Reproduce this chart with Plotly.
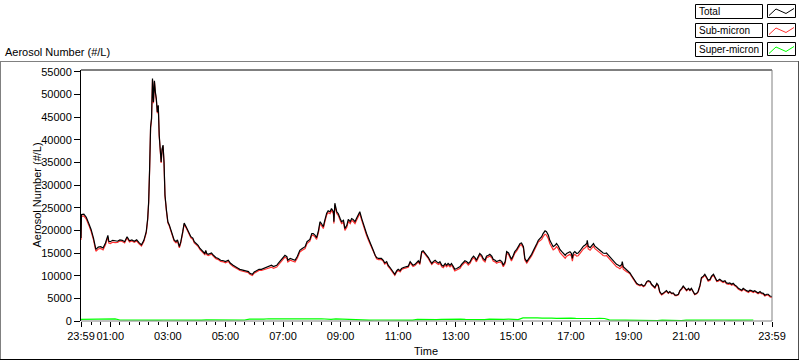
import plotly.graph_objects as go

# ---------------- data (minutes after 00:00; -1 = 23:59 previous day) ----------------
minutes = [-1, 0, 5, 10, 15, 20, 25, 30, 35, 40, 45, 50, 55, 57, 60, 65, 70, 75, 80, 85,
           90, 95, 100, 105, 110, 115, 120, 125, 130, 135, 138, 140, 142, 144, 146, 148, 150, 152, 154, 156,
           158, 160, 162, 164, 166, 168, 170, 172, 174, 177, 180, 183, 187, 190, 193, 197, 200, 204, 207, 211,
           214, 218, 221, 225, 228, 232, 235, 240, 243, 247, 250, 254, 257, 259, 261, 264, 271, 275, 280, 285,
           290, 296, 300, 306, 310, 316, 320, 327, 330, 337, 340, 348, 350, 356, 360, 365, 370, 375, 380, 386,
           390, 396, 400, 407, 410, 416, 420, 424, 428, 430, 435, 440, 445, 450, 455, 460, 466, 470, 476, 480,
           483, 487, 490, 494, 497, 500, 504, 507, 511, 514, 518, 521, 525, 526, 528, 532, 535, 539, 542, 546,
           549, 553, 556, 560, 563, 566, 570, 573, 577, 580, 584, 587, 591, 594, 598, 601, 605, 608, 612, 615,
           619, 625, 629, 632, 636, 639, 643, 646, 650, 653, 657, 660, 664, 667, 671, 678, 681, 685, 688, 691,
           695, 698, 702, 705, 709, 712, 716, 719, 723, 726, 730, 733, 737, 740, 744, 747, 751, 754, 758, 761,
           764, 768, 771, 775, 778, 782, 785, 789, 792, 796, 799, 803, 806, 810, 813, 817, 820, 823, 827, 830,
           834, 837, 841, 844, 848, 851, 855, 858, 862, 865, 869, 872, 876, 879, 883, 886, 890, 893, 896, 900,
           903, 907, 910, 914, 917, 921, 924, 928, 931, 935, 938, 942, 945, 949, 952, 955, 959, 962, 966, 969,
           973, 976, 980, 983, 987, 990, 994, 997, 1001, 1004, 1008, 1011, 1014, 1018, 1021, 1023, 1025, 1028, 1032, 1035,
           1039, 1042, 1046, 1049, 1053, 1054, 1056, 1060, 1063, 1067, 1070, 1074, 1077, 1080, 1084, 1087, 1091, 1094, 1098, 1101,
           1105, 1108, 1112, 1115, 1119, 1122, 1126, 1127, 1129, 1133, 1136, 1140, 1143, 1146, 1150, 1153, 1157, 1160, 1164, 1167,
           1171, 1174, 1178, 1181, 1185, 1188, 1192, 1195, 1199, 1202, 1205, 1209, 1212, 1216, 1219, 1223, 1226, 1230, 1233, 1237,
           1240, 1244, 1247, 1251, 1254, 1258, 1261, 1265, 1268, 1271, 1275, 1278, 1282, 1285, 1289, 1292, 1296, 1299, 1303, 1306,
           1310, 1313, 1317, 1320, 1324, 1327, 1330, 1334, 1337, 1341, 1344, 1348, 1351, 1355, 1358, 1362, 1365, 1369, 1372, 1376,
           1379, 1383, 1386, 1390, 1393, 1396, 1400, 1403, 1407, 1410, 1414, 1417, 1421, 1424, 1428, 1431, 1435, 1439]

total = [18300, 23500, 23600, 22900, 21600, 20200, 18300, 15800, 16300, 16400, 16100, 17200, 18900, 17600, 17500, 17800, 17700, 17600, 17900, 17800,
         17500, 18600, 17700, 17900, 17600, 17900, 17300, 16800, 17800, 19700, 22600, 26300, 33600, 42800, 44700, 53500, 48300, 53000, 50500, 49000,
         46100, 47600, 41000, 38800, 35100, 38000, 38800, 35100, 27800, 24500, 21900, 21200, 19700, 18600, 17900, 17500, 17900, 16400, 17500, 19700,
         21600, 20800, 20100, 19400, 18600, 18300, 17500, 17000, 16700, 16000, 15600, 15300, 14900, 15600, 14900, 14700, 15000, 14500, 14000, 13800,
         13400, 13300, 13100, 13400, 12800, 12300, 12100, 11600, 11400, 11200, 11100, 10900, 10600, 10300, 10800, 11200, 11400, 11400, 11600, 11800,
         12100, 12300, 12000, 12300, 12700, 13400, 14000, 14500, 14200, 13400, 13800, 13600, 13400, 14300, 15600, 16000, 16400, 17500, 18000, 19300,
         19300, 18900, 18400, 20000, 21900, 21500, 20800, 22200, 23800, 24300, 24100, 24800, 24100, 21900, 26000, 24100, 23700, 22600, 21900, 22200,
         20400, 21100, 22400, 21900, 22600, 22400, 21900, 22600, 23700, 24100, 22600, 21500, 20400, 19300, 18200, 17500, 16400, 15600, 14500, 14000,
         13800, 13800, 13400, 12800, 13100, 12300, 11800, 11400, 10900, 10300, 11100, 11400, 11100, 11600, 11800, 12100, 12100, 13100, 12700, 12300,
         12500, 12800, 13300, 12700, 15300, 15500, 15000, 14700, 14000, 13400, 12700, 13100, 13400, 13100, 12800, 13100, 12300, 12100, 12700, 12300,
         12700, 12300, 12700, 12000, 11400, 11600, 11800, 12000, 12500, 13100, 13300, 13100, 12700, 13100, 13800, 14300, 14000, 13400, 14200, 14900,
         14500, 13800, 13400, 14300, 14500, 14700, 14300, 13600, 13400, 13100, 13300, 13400, 13100, 12300, 13100, 15300, 15000, 14200, 13600, 14500,
         15300, 15800, 16400, 17100, 17200, 16400, 13800, 13100, 13600, 14200, 14700, 15600, 16400, 17100, 17800, 18200, 18600, 19300, 19900, 19700,
         18900, 17800, 17100, 16400, 16700, 17100, 16500, 15800, 15300, 14900, 14500, 14900, 15000, 15300, 14900, 13800, 15000, 15300, 14900, 15000,
         15500, 16000, 16500, 16700, 17100, 17800, 16500, 16200, 16700, 17100, 16500, 16200, 16000, 15800, 15300, 15000, 14900, 15000, 14500, 14200,
         13800, 13400, 12800, 12500, 12300, 12100, 12500, 13100, 12000, 11600, 11400, 10900, 10600, 10100, 9400, 8700, 8300, 8100, 7900, 8100,
         7700, 7900, 8700, 8900, 8700, 8100, 7700, 7400, 8300, 7900, 6500, 5900, 6100, 6500, 6700, 6200, 6500, 6100, 6200, 5700,
         5700, 5900, 6700, 7200, 7700, 7200, 6800, 7200, 6800, 7200, 6500, 5900, 6100, 6500, 7900, 9600, 9900, 10300, 9600, 9000,
         9200, 9900, 10300, 9600, 8900, 9000, 9200, 8900, 8700, 8900, 8400, 8300, 8400, 8100, 8300, 7900, 7700, 7200, 7000, 6800,
         7200, 6800, 6700, 6500, 6800, 6700, 6500, 6700, 6500, 6200, 6500, 6200, 6100, 5700, 5900, 5900, 5500, 5400]

sub_micron = [17900, 23100, 23200, 22500, 21200, 19800, 17900, 15400, 15900, 16000, 15700, 16800, 18500, 17200, 17100, 17400, 17300, 17350, 17650, 17550,
              17250, 18350, 17450, 17650, 17350, 17650, 17050, 16550, 17550, 19450, 22350, 26050, 33350, 42550, 44450, 53250, 48050, 52750, 50250, 48750,
              45850, 47350, 40750, 38550, 34850, 37750, 38550, 34850, 27550, 24250, 21650, 20950, 19450, 18350, 17650, 17250, 17650, 16150, 17250, 19450,
              21350, 20550, 19850, 19150, 18350, 18050, 17250, 16750, 16450, 15750, 15350, 15050, 14650, 15350, 14650, 14450, 14750, 14250, 13750, 13550,
              13150, 13050, 12850, 13150, 12550, 12050, 11850, 11350, 11150, 10950, 10850, 10650, 10350, 10050, 10550, 10950, 11150, 11150, 11350, 11550,
              11700, 11900, 11600, 11900, 12300, 13000, 13600, 14100, 13800, 13000, 13400, 13200, 13000, 13900, 15200, 15600, 16000, 17100, 17600, 18900,
              18900, 18500, 18000, 19600, 21500, 21100, 20400, 21800, 23400, 23900, 23700, 24400, 23700, 21500, 25600, 23700, 23300, 22200, 21500, 21800,
              20000, 20700, 22000, 21500, 22200, 22000, 21500, 22200, 23300, 23700, 22200, 21100, 20000, 18900, 17800, 17100, 16100, 15350, 14250, 13750,
              13550, 13550, 13150, 12550, 12850, 12050, 11550, 11150, 10650, 10050, 10850, 11150, 10850, 11350, 11550, 11850, 11850, 12850, 12450, 12050,
              12250, 12550, 13050, 12450, 15050, 15250, 14750, 14450, 13750, 13150, 12450, 12850, 13050, 12750, 12450, 12750, 11950, 11750, 12350, 11950,
              12350, 11950, 12350, 11650, 11050, 11250, 11450, 11650, 12150, 12750, 12950, 12750, 12350, 12750, 13450, 13950, 13650, 13050, 13850, 14550,
              14150, 13450, 13050, 13950, 14150, 14350, 13950, 13250, 13050, 12750, 12950, 13050, 12750, 11950, 12750, 14950, 14650, 13850, 13250, 14150,
              14950, 15450, 16050, 16750, 16850, 16050, 13450, 12750, 13250, 13850, 14350, 15250, 16050, 16750, 17450, 17700, 18000, 18600, 19150, 18950,
              18150, 17100, 16400, 15700, 16000, 16450, 15850, 15150, 14650, 14250, 13850, 14300, 14400, 14700, 14300, 13200, 14400, 14700, 14300, 14400,
              14900, 15400, 15900, 16100, 16500, 17200, 15900, 15600, 16100, 16550, 15950, 15650, 15450, 15250, 14750, 14450, 14350, 14450, 13950, 13650,
              13250, 12850, 12250, 11950, 11750, 11550, 11950, 12550, 11450, 11050, 10850, 10650, 10400, 9900, 9200, 8500, 8100, 7950, 7750, 7950,
              7550, 7750, 8550, 8750, 8550, 7950, 7550, 7250, 8100, 7700, 6300, 5750, 5950, 6350, 6550, 6100, 6400, 6000, 6100, 5600,
              5600, 5800, 6600, 7050, 7550, 7050, 6650, 7050, 6700, 7100, 6400, 5800, 6000, 6350, 7700, 9400, 9700, 10100, 9400, 8800,
              9000, 9700, 10100, 9400, 8700, 8800, 9000, 8700, 8500, 8700, 8200, 8100, 8200, 7900, 8100, 7700, 7500, 7000, 6800, 6600,
              7000, 6600, 6500, 6300, 6600, 6500, 6300, 6500, 6300, 6000, 6300, 6000, 5900, 5500, 5700, 5700, 5300, 5200]

super_minutes = [-1] + list(range(0, 1431, 10)) + [1439]
super_micron = [350,
                350, 450, 400, 500, 350, 450, 400, 450,
                220, 200, 230, 210, 220, 200, 220, 230, 210, 220, 200, 220, 210, 230, 220, 200,
                220, 210, 230, 220, 200, 220, 210, 220, 230, 200, 220,
                400, 350, 450, 400, 500, 450, 400, 500, 450, 500, 400, 450, 500, 400, 450, 500,
                400, 350, 450, 400, 350, 300,
                220, 200, 230, 210, 220, 200, 220, 230, 210, 220, 200, 220, 210,
                350, 300, 400, 350, 300, 350, 400, 300, 350, 400, 350, 300, 400, 350, 300, 400,
                350, 300, 350, 400, 350, 300,
                700, 750, 800, 700, 650, 700, 650, 600, 650, 600, 650, 600, 550, 650, 600, 550, 600, 550,
                250, 220, 200, 200, 150, 100, 150, 200, 100, 150, 100, 200, 150, 100, 80, 100, 200, 220,
                200, 220, 200, 200, 220, 200, 220, 200, 200, 220, 200, 220,
                220]

tick_minutes = [-1, 60, 180, 300, 420, 540, 660, 780, 900, 1020, 1140, 1260, 1439]
tick_labels = ["23:59", "01:00", "03:00", "05:00", "07:00", "09:00", "11:00",
               "13:00", "15:00", "17:00", "19:00", "21:00", "23:59"]
series_names = ["Total", "Sub-micron", "Super-micron"]
series_colors = ["#000000", "#ff3030", "#00ff00"]

# ---------------- layout helpers (pixel -> paper) ----------------
W, H = 800, 361
L, R, T, B = 81, 772, 70, 321


def px(x):
    return (x - L) / (R - L)


def py(y):
    return (B - y) / (B - T)


FONT = "Liberation Sans, Arial, sans-serif"

fig = go.Figure()
fig.add_trace(go.Scatter(x=super_minutes, y=super_micron, mode="lines", name=series_names[2],
                         line=dict(color=series_colors[2], width=1.2), showlegend=False))
fig.add_trace(go.Scatter(x=minutes, y=sub_micron, mode="lines", name=series_names[1],
                         line=dict(color=series_colors[1], width=1.2), showlegend=False))
fig.add_trace(go.Scatter(x=minutes, y=total, mode="lines", name=series_names[0],
                         line=dict(color=series_colors[0], width=1.2), showlegend=False))

shapes = []


def line(x0, y0, x1, y1, color, width=1):
    shapes.append(dict(type="line", xref="paper", yref="paper", x0=px(x0), y0=py(y0),
                       x1=px(x1), y1=py(y1), line=dict(color=color, width=width)))


# outer panel frame
line(0, 61.5, 799, 61.5, "#808080")
line(0.5, 61, 0.5, 360, "#808080")
line(798.5, 61, 798.5, 360, "#505050")
line(0, 359.5, 799, 359.5, "#000000")
# plot frame
line(L, 70, R, 70, "#000000")
line(R, 70, R, B, "#808080")
line(L, B, R, B, "#808080")

annotations = []
row_tops = [4, 23, 42]
for i, name in enumerate(series_names):
    top = row_tops[i]
    shapes.append(dict(type="rect", xref="paper", yref="paper", x0=px(695.5), x1=px(762.5),
                       y0=py(top + 0.5), y1=py(top + 14.5), line=dict(color="#000000", width=1),
                       fillcolor="white"))
    shapes.append(dict(type="rect", xref="paper", yref="paper", x0=px(767.5), x1=px(795.5),
                       y0=py(top + 0.5), y1=py(top + 13.5), line=dict(color="#000000", width=1),
                       fillcolor="white"))
    pts = [(769, top + 11.5), (776, top + 5), (786, top + 9.5), (794, top + 4.5)]
    path = "M " + " L ".join(f"{px(a):.5f},{py(b):.5f}" for a, b in pts)
    shapes.append(dict(type="path", xref="paper", yref="paper", path=path,
                       line=dict(color=series_colors[i], width=1)))
    annotations.append(dict(text=name, xref="paper", yref="paper", x=px(697), y=py(top + 7.5),
                            xanchor="left", yanchor="middle", showarrow=False,
                            font=dict(family=FONT, size=10, color="black")))

annotations.append(dict(text="Aerosol Number (#/L)", xref="paper", yref="paper", x=px(3), y=py(52),
                        xanchor="left", yanchor="middle", showarrow=False,
                        font=dict(family=FONT, size=11, color="black")))
annotations.append(dict(text="Aerosol Number (#/L)", xref="paper", yref="paper", x=px(36), y=0.5,
                        xanchor="center", yanchor="middle", textangle=-90, showarrow=False,
                        font=dict(family=FONT, size=11, color="black")))
annotations.append(dict(text="Time", xref="paper", yref="paper", x=px(425.5), y=py(351),
                        xanchor="center", yanchor="middle", showarrow=False,
                        font=dict(family=FONT, size=11, color="black")))

fig.update_layout(
    width=W, height=H,
    margin=dict(l=L, r=W - R, t=T, b=H - B, autoexpand=False),
    paper_bgcolor="white", plot_bgcolor="white",
    font=dict(family=FONT, size=11, color="black"),
    showlegend=False,
    shapes=shapes, annotations=annotations,
    xaxis=dict(range=[-1, 1439], tickmode="array", tickvals=tick_minutes, ticktext=tick_labels,
               tickangle=0, automargin=False,
               ticks="outside", ticklen=5, tickcolor="black", showgrid=False, zeroline=False,
               showline=False, tickfont=dict(family=FONT, size=11, color="black"),
               minor=dict(tickmode="linear", tick0=0, dtick=20, ticks="outside", ticklen=3,
                          tickcolor="black", showgrid=False)),
    yaxis=dict(range=[0, 55380], tickmode="linear", tick0=0, dtick=5000, ticks="outside",
               tickformat="d", automargin=False,
               ticklen=6, tickcolor="black", showgrid=False, zeroline=False, showline=True,
               linecolor="black", linewidth=1, tickfont=dict(family=FONT, size=11, color="black")),
)

fig.write_html("out.html", config={"displayModeBar": False},
               post_script="document.body.style.margin='0';document.body.style.overflow='hidden';")
